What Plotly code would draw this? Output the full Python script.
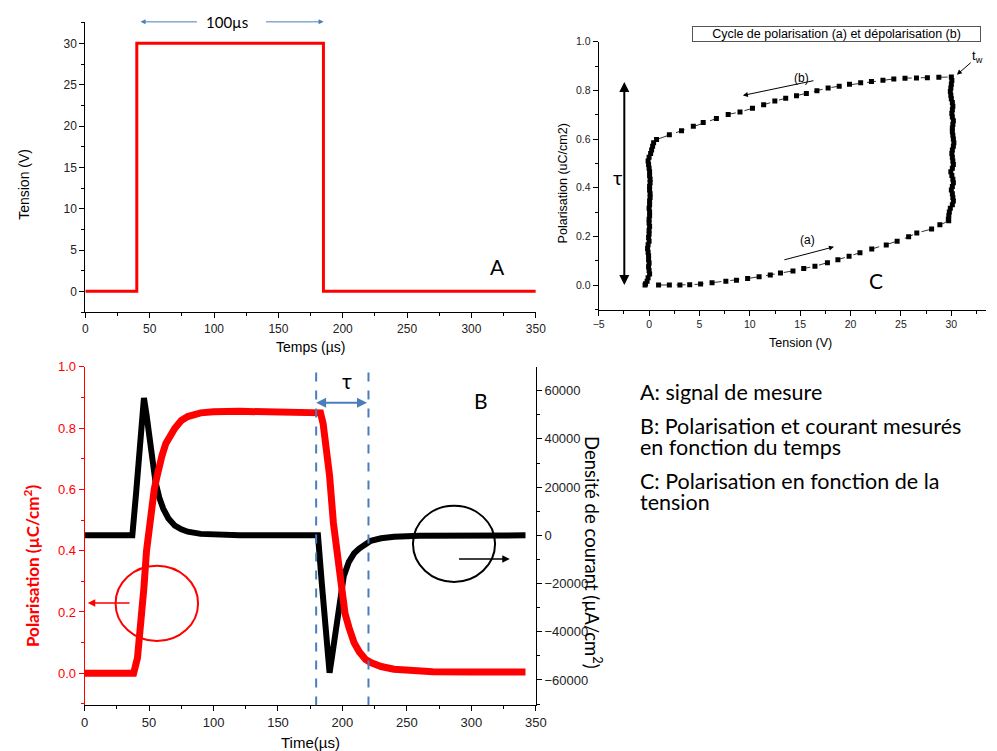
import plotly.graph_objects as go

W, H = 997, 751
def fx(px): return px / W
def fy(py): return 1 - py / H

# ---------------- Panel A : signal de mesure ----------------
a_time = [0, 40, 40, 185, 185, 350]
a_volt = [0, 0, 30, 30, 0, 0]

# ---------------- Panel C : cycle P(V) ----------------
c_va = [0.94, 2.01, 3.06, 4.03, 5.11, 6.25, 7.62, 8.67, 9.78, 10.92, 12.03, 13.04, 14.28, 15.35,
        16.46, 17.70, 18.74, 19.85, 20.93, 22.10, 23.54, 24.62, 25.76, 26.57, 28.04, 28.86, 29.74]
c_pa = [0.0, 0.0, 0.0, 0.001, 0.004, 0.009, 0.015, 0.020, 0.027, 0.034, 0.041, 0.049, 0.058, 0.068,
        0.077, 0.092, 0.104, 0.118, 0.133, 0.148, 0.164, 0.180, 0.198, 0.214, 0.230, 0.248, 0.264]
c_vr = [29.7, 29.75, 29.8, 29.9, 30.1, 30.2, 30.15, 30.1, 30.0, 30.1, 30.2, 30.15, 30.05, 29.95,
        30.1, 30.2, 30.15, 30.1, 30.05, 30.1, 30.2, 30.25, 30.2, 30.15, 30.1, 30.1, 30.15, 30.2,
        30.1, 30.05, 30.1, 30.15, 30.1, 30.0, 29.95, 29.9, 29.95, 30.0, 30.05, 30.0]
c_pr = [0.27, 0.285, 0.30, 0.315, 0.33, 0.345, 0.36, 0.375, 0.39, 0.405, 0.42, 0.435, 0.45, 0.465,
        0.48, 0.495, 0.51, 0.525, 0.54, 0.555, 0.57, 0.585, 0.60, 0.615, 0.63, 0.645, 0.66, 0.675,
        0.69, 0.705, 0.72, 0.735, 0.75, 0.765, 0.78, 0.795, 0.81, 0.825, 0.84, 0.855]
c_vb = [28.76, 27.62, 26.54, 25.40, 24.29, 23.21, 22.07, 21.00, 19.89, 18.87, 17.77, 16.66, 15.61,
        14.63, 13.56, 12.48, 11.37, 10.26, 9.02, 7.85, 6.68, 5.37, 4.39, 3.22, 2.01, 0.74]
c_pb = [0.854, 0.852, 0.851, 0.850, 0.847, 0.841, 0.836, 0.831, 0.825, 0.817, 0.810, 0.798, 0.787,
        0.778, 0.768, 0.756, 0.741, 0.726, 0.711, 0.701, 0.684, 0.668, 0.652, 0.634, 0.617, 0.598]
c_vl = [0.45, 0.35, 0.25, 0.15, 0.0, -0.1, -0.05, 0.0, 0.05, 0.05, 0.1, 0.1, 0.05, 0.05, 0.1, 0.1,
        0.05, 0.05, 0.0, 0.05, 0.05, 0.0, 0.0, 0.05, 0.0, 0.0, -0.05, 0.0, -0.1, -0.15, -0.1, -0.05,
        -0.05, 0.0, -0.05, 0.0, 0.05, -0.1, -0.2, -0.35, -0.4]
c_pl = [0.585, 0.57, 0.555, 0.54, 0.525, 0.51, 0.495, 0.48, 0.465, 0.45, 0.435, 0.42, 0.405, 0.39,
        0.375, 0.36, 0.345, 0.33, 0.315, 0.30, 0.285, 0.27, 0.255, 0.24, 0.225, 0.21, 0.195, 0.18,
        0.165, 0.15, 0.135, 0.12, 0.105, 0.09, 0.075, 0.06, 0.045, 0.03, 0.015, 0.005, 0.0]

# ---------------- Panel B : P(t) and J(t) ----------------
b_tp = [0, 10, 20, 30, 38, 41, 44, 46, 48, 50, 52, 54, 56, 58, 60, 63, 66, 70, 75, 80, 90, 100, 120,
        150, 181, 183, 185, 187, 190, 193, 196, 199, 202, 205, 209, 213, 218, 222, 230, 240, 255,
        270, 300, 342]
b_pol = [0, 0, 0, 0, 0, 0.05, 0.17, 0.28, 0.40, 0.48, 0.55, 0.60, 0.64, 0.68, 0.71, 0.75, 0.775,
         0.80, 0.825, 0.838, 0.850, 0.854, 0.855, 0.855, 0.855, 0.85, 0.815, 0.76, 0.645, 0.49,
         0.375, 0.26, 0.195, 0.15, 0.10, 0.07, 0.045, 0.035, 0.022, 0.013, 0.008, 0.005, 0.004, 0.004]
b_tj = [0, 10, 20, 30, 37, 40, 43, 46, 48, 50, 52, 55, 58, 61, 65, 70, 75, 80, 90, 100, 120, 150,
        180, 181, 184, 187, 190, 192, 195, 198, 201, 205, 209, 213, 218, 222, 230, 240, 260, 300, 342]
b_cur = [0, 0, 0, 0, 0, 18000, 38000, 57000, 50000, 41000, 33000, 22000, 15500, 11000, 7000, 4000,
         2500, 1500, 600, 300, 0, 0, 0, 0, -20000, -38000, -57000, -50000, -39000, -28000, -17000,
         -11000, -7500, -5500, -3500, -2300, -1200, -550, -200, 0, 0]

# text panel
legend_lines = ["A: signal de mesure",
                "B: Polarisation et courant mesurés",
                "en fonction du temps",
                "C: Polarisation en fonction de la",
                "tension"]

RED = "#ff0000"
BLUE = "#4a7ebb"
TICKF = "Liberation Sans, Arial, sans-serif"
TEXTF = "Lato, 'Noto Sans', sans-serif"

fig = go.Figure()

fig.add_trace(go.Scatter(x=a_time, y=a_volt, mode="lines", line=dict(color=RED, width=3),
                         xaxis="x", yaxis="y", hoverinfo="skip"))

c_v = c_va + c_vr + c_vb + c_vl
c_p = c_pa + c_pr + c_pb + c_pl
fig.add_trace(go.Scatter(x=c_v, y=c_p, mode="lines+markers",
                         line=dict(color="#333333", width=1, dash="dash"),
                         marker=dict(symbol="square", size=5, color="black"),
                         xaxis="x2", yaxis="y2", hoverinfo="skip"))

fig.add_trace(go.Scatter(x=b_tj, y=b_cur, mode="lines", line=dict(color="black", width=6),
                         xaxis="x3", yaxis="y3", hoverinfo="skip"))
fig.add_trace(go.Scatter(x=b_tp, y=b_pol, mode="lines", line=dict(color=RED, width=7),
                         xaxis="x3", yaxis="y4", hoverinfo="skip"))

common = dict(showgrid=False, zeroline=False, showline=True, linecolor="black", linewidth=1,
              ticks="outside", ticklen=5, tickcolor="black", mirror=False)

fig.update_layout(
    width=W, height=H, autosize=False, showlegend=False,
    margin=dict(l=0, r=0, t=0, b=0),
    paper_bgcolor="white", plot_bgcolor="white",
    xaxis=dict(domain=[fx(80.7), fx(539)], range=[0, 350], dtick=50, anchor="y",
               tickfont=dict(family=TICKF, size=12, color="#222"),
               minor=dict(ticks="outside", ticklen=3, dtick=25, tickcolor="black"), **common),
    yaxis=dict(domain=[fy(308.3), fy(15)], range=[-2.55, 32.6], dtick=5, anchor="x",
               tickfont=dict(family=TICKF, size=12, color="#222"),
               minor=dict(ticks="outside", ticklen=3, dtick=2.5, tickcolor="black"), **common),
    xaxis2=dict(domain=[fx(603), 1.0], range=[-5, 33.44], dtick=5, anchor="y2",
                tickfont=dict(family=TICKF, size=10.5, color="#222"),
                minor=dict(ticks="outside", ticklen=3, dtick=2.5, tickcolor="black"), **common),
    yaxis2=dict(domain=[fy(305.7), fy(35)], range=[-0.102, 1.0], dtick=0.2, tickformat=".1f",
                anchor="x2", tickfont=dict(family=TICKF, size=10.5, color="#222"),
                minor=dict(ticks="outside", ticklen=3, dtick=0.1, tickcolor="black"), **common),
    xaxis3=dict(domain=[fx(80), fx(539)], range=[0, 350], dtick=50, anchor="y3",
                tickfont=dict(family=TICKF, size=13, color="#222"),
                minor=dict(ticks="outside", ticklen=3, dtick=25, tickcolor="black"), **common),
    yaxis3=dict(domain=[fy(705), fy(363.3)], range=[-70560, 69860], tick0=0, dtick=20000,
                tickformat="d", side="right", anchor="x3",
                tickfont=dict(family=TICKF, size=13, color="#222"),
                minor=dict(ticks="outside", ticklen=3, dtick=10000, tickcolor="black"), **common),
    yaxis4=dict(overlaying="y3", side="left", anchor="x3", range=[-0.105, 1.0], dtick=0.2,
                tickformat=".1f", showgrid=False, zeroline=False, showline=True, linecolor=RED,
                linewidth=1, ticks="outside", ticklen=5, tickcolor=RED,
                tickfont=dict(family=TICKF, size=13, color=RED),
                minor=dict(ticks="outside", ticklen=3, dtick=0.1, tickcolor=RED)),
)

ann = []
def txt(text, x, y, xref, yref, size, color="black", family=TEXTF, angle=0, xanchor="center", **kw):
    ann.append(dict(text=text, x=x, y=y, xref=xref, yref=yref, showarrow=False,
                    font=dict(size=size, color=color, family=family), textangle=angle,
                    xanchor=xanchor, yanchor="middle", **kw))

def arrow(x, y, ax, ay, xref, yref, color, width=1, head=2, side="end", size=1):
    ann.append(dict(text="", x=x, y=y, ax=ax, ay=ay, xref=xref, yref=yref, axref=xref, ayref=yref,
                    showarrow=True, arrowcolor=color, arrowwidth=width, arrowhead=head,
                    startarrowhead=head, arrowside=side, arrowsize=size, standoff=0,
                    startstandoff=0))

# Panel A texts
txt("Tension (V)", fx(18.8), fy(179), "paper", "paper", 14, family=TICKF, angle=-90)
txt("Temps (µs)", fx(310), fy(343), "paper", "paper", 14, family=TICKF)
txt("100µs", 110.2, 32.6, "x", "y", 15)
arrow(42.9, 32.6, 87.9, 32.6, "x", "y", BLUE, 1)
arrow(185.1, 32.6, 139.3, 32.6, "x", "y", BLUE, 1)
txt("A", 320.3, 3.0, "x", "y", 21)

# Panel C texts
txt("Tension (V)", fx(808), fy(339), "paper", "paper", 12.5, family=TICKF)
txt("Polarisation (uC/cm2)", fx(566.7), fy(178), "paper", "paper", 12.5, family=TICKF, angle=-90)
ann.append(dict(text="Cycle de polarisation (a) et dépolarisation (b)", x=fx(844.5), y=fy(27.5),
                xref="paper", yref="paper", showarrow=False, width=287, height=14,
                font=dict(size=12.5, family=TICKF, color="black"), bordercolor="#555",
                borderwidth=1, borderpad=0, bgcolor="white", xanchor="center", yanchor="middle"))
arrow(-2.46, 0.0, -2.46, 0.84, "x2", "y2", "black", 2, 2, "end+start", 1)
txt("τ", -3.18, 0.444, "x2", "y2", 20)
txt("(b)", 15.1, 0.851, "x2", "y2", 12, family=TICKF)
arrow(9.31, 0.779, 16.46, 0.841, "x2", "y2", "black", 1)
txt("(a)", 15.75, 0.187, "x2", "y2", 12, family=TICKF)
arrow(18.35, 0.157, 13.28, 0.102, "x2", "y2", "black", 1)
txt("t<sub>w</sub>", 32.6, 0.94, "x2", "y2", 13, family=TICKF)
arrow(30.55, 0.864, 32.07, 0.919, "x2", "y2", "black", 1)
txt("C", 22.48, 0.02, "x2", "y2", 21)

# Panel B texts
txt("Time(µs)", fx(309.5), fy(742), "paper", "paper", 15, family=TICKF)
txt("<b>Polarisation (µC/cm<sup>2</sup>)</b>", fx(25.7), fy(564), "paper", "paper", 17,
    color=RED, angle=-90)
txt("Densité de courant (µA/cm<sup>2</sup>)", fx(597), fy(551), "paper", "paper", 18.5, angle=90)
txt("τ", 203.7, 0.957, "x3", "y4", 21)
txt("B", 307.3, 0.892, "x3", "y4", 21)
arrow(179.6, 0.883, 220.2, 0.883, "x3", "y4", BLUE, 2, 2, "end+start", 1)
arrow(2.4, 0.229, 36.0, 0.229, "x3", "y4", RED, 1.5)
arrow(329.8, 0.373, 289.3, 0.373, "x3", "y4", "black", 1.5)

# Right text panel
for line, py in zip(legend_lines, [388.3, 423.3, 444.3, 478.3, 500]):
    txt(line, fx(643), fy(py), "paper", "paper", 21.5, xanchor="left")

fig.update_layout(annotations=ann)

shapes = [
    dict(type="line", x0=179.6, x1=179.6, y0=-0.105, y1=1.0, xref="x3", yref="y4",
         line=dict(color=BLUE, width=2, dash="dash")),
    dict(type="line", x0=220.2, x1=220.2, y0=-0.105, y1=1.0, xref="x3", yref="y4",
         line=dict(color=BLUE, width=2, dash="dash")),
    dict(type="circle", x0=24.0, x1=88.0, y0=0.105, y1=0.351, xref="x3", yref="y4",
         line=dict(color=RED, width=2)),
    dict(type="circle", x0=254.7, x1=318.4, y0=0.298, y1=0.547, xref="x3", yref="y4",
         line=dict(color="black", width=2)),
]
fig.update_layout(shapes=shapes)

fig.write_html("out.html", config={"displayModeBar": False},
               post_script="document.body.style.margin='0';")
